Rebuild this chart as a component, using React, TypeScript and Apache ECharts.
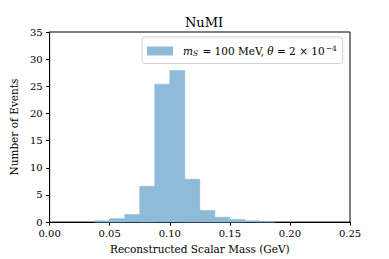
import React, { useEffect, useRef } from "react";
import * as echarts from "echarts";

const binEdges = [0.0375, 0.05, 0.0625, 0.075, 0.0875, 0.1, 0.1125, 0.125, 0.1375, 0.15, 0.1625, 0.175, 0.1875];
const counts = [0.25, 0.65, 1.4, 6.6, 25.4, 27.9, 7.9, 2.15, 0.9, 0.5, 0.25, 0.12];
const xTicks = { min: 0, max: 0.25, interval: 0.05 };
const yTicks = { min: 0, max: 35, interval: 5 };
const seriesName = "mS = 100 MeV, θ = 2 × 10^-4";
const titleText = "NuMI";
const xLabel = "Reconstructed Scalar Mass (GeV)";
const yLabel = "Number of Events";

const FONT = "DejaVu Serif";

export default function App() {
  const ref = useRef<HTMLDivElement>(null);
  useEffect(() => {
    if (!ref.current) return;
    const chart = echarts.init(ref.current, null, { renderer: "svg" });
    const data = counts.map((c, i) => [binEdges[i], binEdges[i + 1], c]);
    chart.setOption({
      animation: false,
      backgroundColor: "#ffffff",
      title: {
        text: titleText,
        left: 199,
        top: 11,
        textAlign: "center",
        textStyle: { fontFamily: FONT, fontSize: 13, fontWeight: "normal", color: "#000" },
      },
      legend: {
        left: 142,
        top: 37,
        orient: "horizontal",
        itemWidth: 26,
        itemHeight: 9,
        itemGap: 5,
        padding: [7, 6, 6, 5],
        backgroundColor: "rgba(255,255,255,0.8)",
        borderColor: "#d0d0d0",
        borderWidth: 1,
        borderRadius: 3,
        data: [{ name: seriesName, icon: "rect" }],
        formatter: () => "{i0|m}{sub|S}{n| = 100 MeV, }{i|θ}{n| = 2 × 10}{sup|−4}",
        textStyle: {
          fontFamily: FONT,
          fontSize: 10.5,
          color: "#000",
          rich: {
            i0: { fontFamily: FONT, fontStyle: "italic", fontSize: 10.5, color: "#000", padding: [0, 0, 0, 5] },
            i: { fontFamily: FONT, fontStyle: "italic", fontSize: 10.5, color: "#000" },
            n: { fontFamily: FONT, fontSize: 10.5, color: "#000" },
            sub: { fontFamily: FONT, fontStyle: "italic", fontSize: 7.5, color: "#000", padding: [5, 1, 0, 0] },
            sup: { fontFamily: FONT, fontSize: 7.5, color: "#000", padding: [0, 0, 6, 1] },
          },
        },
      },
      grid: {
        left: 49,
        right: 39,
        top: 32,
        bottom: 32,
        show: true,
        borderColor: "#000",
        borderWidth: 1,
        backgroundColor: "transparent",
      },
      xAxis: {
        type: "value",
        min: xTicks.min,
        max: xTicks.max,
        interval: xTicks.interval,
        name: xLabel,
        nameLocation: "middle",
        nameGap: 20,
        nameTextStyle: { fontFamily: FONT, fontSize: 10.5, color: "#000" },
        axisLine: { show: true, lineStyle: { color: "#000", width: 1 } },
        axisTick: { show: true, length: 3.5, lineStyle: { color: "#000" } },
        axisLabel: {
          margin: 6,
          fontFamily: FONT,
          fontSize: 10,
          color: "#000",
          formatter: (v: number) => v.toFixed(2),
        },
        splitLine: { show: false },
      },
      yAxis: {
        type: "value",
        min: yTicks.min,
        max: yTicks.max,
        interval: yTicks.interval,
        name: yLabel,
        nameLocation: "middle",
        nameGap: 25,
        nameTextStyle: { fontFamily: FONT, fontSize: 10.5, color: "#000" },
        axisLine: { show: true, lineStyle: { color: "#000", width: 1 } },
        axisTick: { show: true, length: 3.5, lineStyle: { color: "#000" } },
        axisLabel: { margin: 7, fontFamily: FONT, fontSize: 10, color: "#000" },
        splitLine: { show: false },
      },
      series: [
        {
          name: seriesName,
          type: "custom",
          itemStyle: { color: "#8fbbd9" },
          encode: { x: [0, 1], y: 2 },
          data,
          renderItem: (params: any, api: any) => {
            const x0 = api.value(0);
            const x1 = api.value(1);
            const y = api.value(2);
            const p0 = api.coord([x0, y]);
            const p1 = api.coord([x1, 0]);
            return {
              type: "rect",
              shape: { x: p0[0], y: p0[1], width: p1[0] - p0[0], height: p1[1] - p0[1] },
              style: { fill: "#8fbbd9", stroke: "#86b5d6", lineWidth: 0.5 },
            };
          },
        },
      ],
    });
    return () => chart.dispose();
  }, []);
  return <div ref={ref} style={{ width: 389, height: 259, position: "absolute", left: 0, top: 0 }} />;
}
